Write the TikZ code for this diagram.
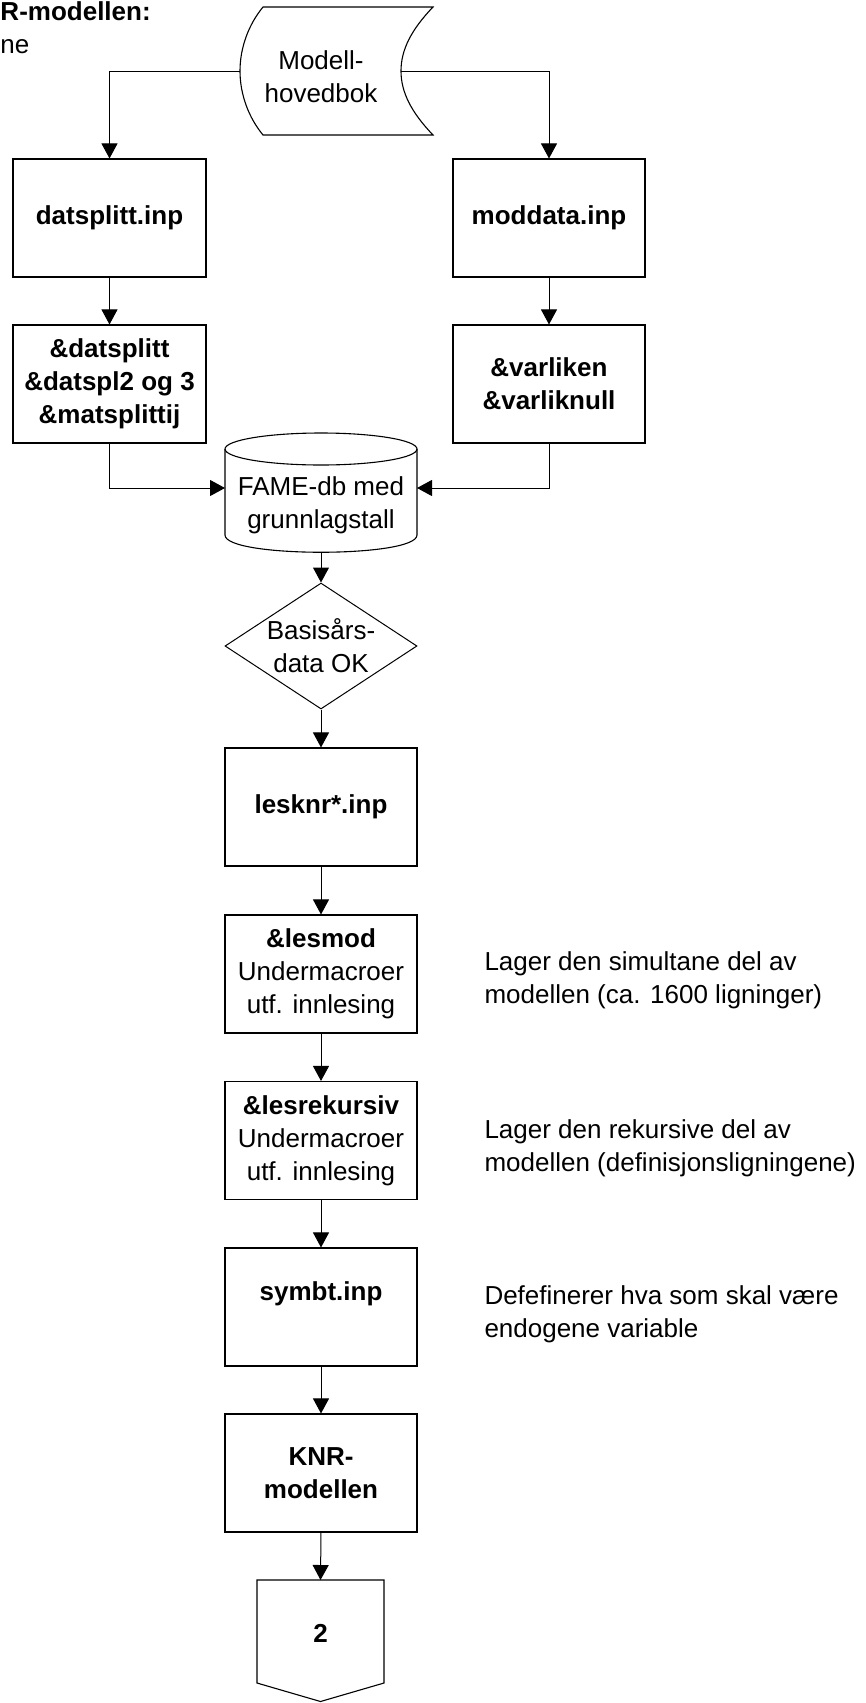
\documentclass[tikz,border=0pt]{standalone}
\usepackage{fontspec}
\setmainfont{Liberation Sans}
\usetikzlibrary{arrows.meta,shapes.geometric}
\begin{document}
\begin{tikzpicture}[x=1pt,y=-1pt,
  line width=1pt,
  txt/.style={font=\fontsize{26}{33}\selectfont, align=center, inner sep=0pt},
  box/.style={draw, line width=1.1pt, rectangle, minimum width=192pt, minimum height=118pt, inner sep=0pt,
              font=\fontsize{26}{33}\selectfont, align=center},
  side/.style={font=\fontsize{26}{33}\selectfont, align=left, anchor=west, inner sep=0pt},
  conn/.style={-{Triangle[width=16pt,length=15pt]}, line width=1pt},
  plain/.style={line width=1pt}
]
\useasboundingbox (0,0) rectangle (865,1703);

% title fragments
\node[anchor=base west, inner sep=0pt, font=\fontsize{26}{33}\selectfont\bfseries] (title) at (0,20) {R-modellen:};
\node[anchor=base west, inner sep=0pt, font=\fontsize{26}{33}\selectfont] (title2) at (0,53) {ne};

% Modell-hovedbok (stored data shape)
\draw[line width=1.1pt] (263,7) -- (433,7)
  .. controls (411,30) and (401,50) .. (401,71)
  .. controls (401,92) and (411,112) .. (433,135)
  -- (263,135)
  .. controls (249,118) and (240,95) .. (240,71)
  .. controls (240,47) and (249,24) .. (263,7) -- cycle;
\node[txt] (mh) at (321,77) {Modell-\\hovedbok};
\coordinate (mhW) at (240,71);
\coordinate (mhE) at (401,71);

% top boxes
\node[box, minimum width=193pt] (ds) at (109.5,218) {\bfseries datsplitt.inp};
\node[box] (md) at (549,218) {\bfseries moddata.inp};
\node[box, minimum width=193pt] (ds2) at (109.5,384) {\bfseries \&datsplitt\\\bfseries \&datspl2 og 3\\\bfseries \&matsplittij};
\node[box] (vl) at (549,384) {\bfseries \&varliken\\\bfseries \&varliknull};

% FAME cylinder
\draw[line width=1.1pt, fill=white] (225,449) -- (225,535)
  .. controls (225,558) and (417,558) .. (417,535) -- (417,449);
\draw[line width=1.1pt] (321,449) ellipse [x radius=96, y radius=16];
\node[txt] (fame) at (321,505) {FAME-db med\\grunnlagstall};
\coordinate (fameW) at (225,488);
\coordinate (fameE) at (417,488);
\coordinate (fameS) at (321,552);

% diamond
\node[draw, diamond, aspect=1.52, minimum width=192pt, minimum height=126pt, inner sep=0pt, line width=1pt] (dia) at (321,646) {};
\node[txt] (diat) at (321,646) {Basisårs-\\data OK};

% main column
\node[box] (lk) at (321,807) {\bfseries lesknr*.inp};
\node[box] (lm) at (321,974) {\bfseries \&lesmod\\Undermacroer\\utf. innlesing};
\node[box] (lr) at (321,1140.5) {\bfseries \&lesrekursiv\\Undermacroer\\utf. innlesing};
\node[box] (sy) at (321,1307) {};
\node[txt] (syt) at (321,1294) {\bfseries symbt.inp};
\node[box] (knr) at (321,1473) {\bfseries KNR-\\\bfseries modellen};

% off-page connector
\draw[line width=1.1pt] (257,1580) -- (384,1580) -- (384,1683) -- (320.5,1701.5) -- (257,1683) -- cycle;
\coordinate (p2N) at (320.5,1580);
\node[txt] (p2) at (320.5,1633) {\bfseries 2};

% side notes
\node[side] (n1) at (484,980) {Lager den simultane del av\\modellen (ca. 1600 ligninger)};
\node[side] (n2) at (484,1148) {Lager den rekursive del av\\modellen (definisjonsligningene)};
\node[side] (n3) at (484,1314) {Defefinerer hva som skal være\\endogene variable};

% connectors
\draw[conn] (mhW) -| (ds.north);
\draw[conn] (mhE) -| (md.north);
\draw[conn] (ds.south) -- (ds2.north);
\draw[conn] (md.south) -- (vl.north);
\draw[conn] (ds2.south) |- (fameW);
\draw[conn] (vl.south) |- (fameE);
\draw[conn] (fameS) -- (dia.north);
\draw[conn] (dia.south) -- (lk.north);
\draw[conn] (lk.south) -- (lm.north);
\draw[conn] (lm.south) -- (lr.north);
\draw[conn] (lr.south) -- (sy.north);
\draw[conn] (sy.south) -- (knr.north);
\draw[conn] (knr.south) -- (p2N);
\end{tikzpicture}
\end{document}
